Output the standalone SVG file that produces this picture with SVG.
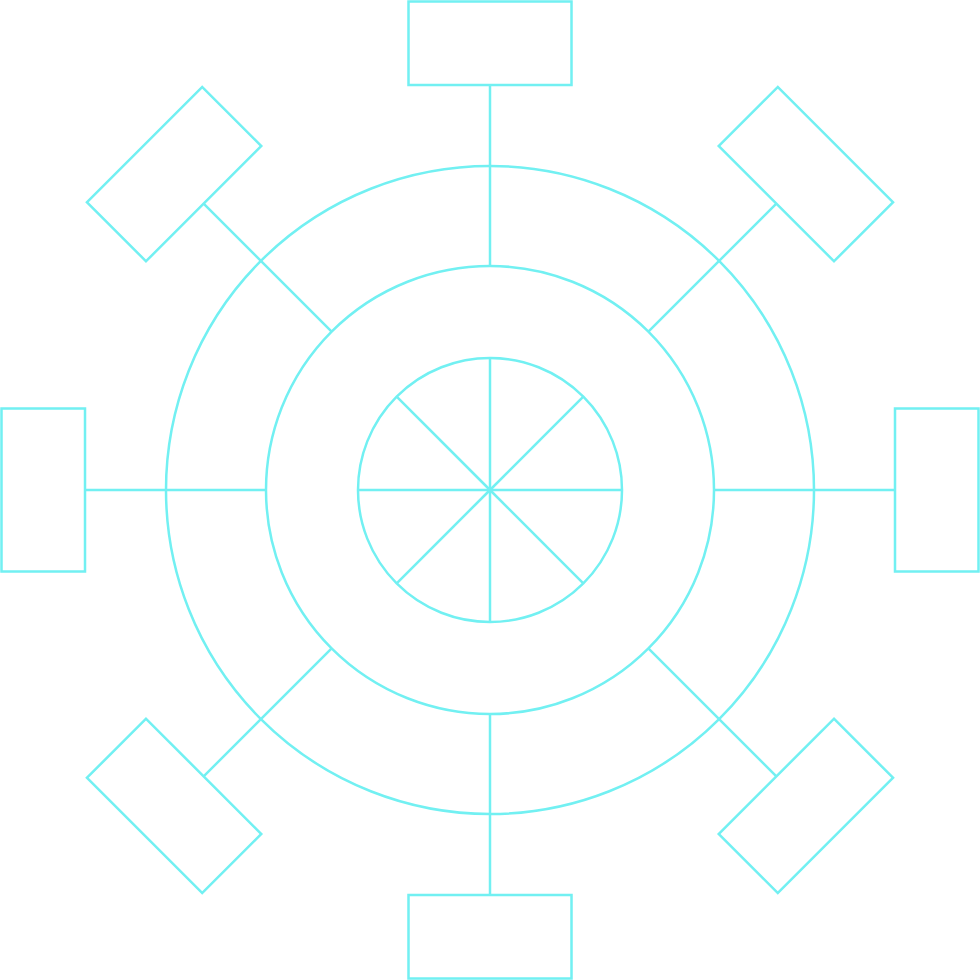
<svg xmlns="http://www.w3.org/2000/svg" width="980" height="980" viewBox="0 0 980 980">
<style>
.s{fill:none;stroke:#72F0F2;stroke-width:2.5}
</style>
<rect width="980" height="980" fill="#ffffff"/>
<g id="rings" class="s">
<circle cx="490" cy="490" r="324"/>
<circle cx="490" cy="490" r="224"/>
<circle cx="490" cy="490" r="132"/>
</g>
<g id="connectors" class="s">
<g id="hub-spokes">
<line x1="490" y1="490" x2="490" y2="358"/>
<line x1="490" y1="490" x2="490" y2="622"/>
<line x1="490" y1="490" x2="358" y2="490"/>
<line x1="490" y1="490" x2="622" y2="490"/>
<line x1="490" y1="490" x2="396.7" y2="396.7"/>
<line x1="490" y1="490" x2="583.3" y2="396.7"/>
<line x1="490" y1="490" x2="396.7" y2="583.3"/>
<line x1="490" y1="490" x2="583.3" y2="583.3"/>
</g>
<line x1="490" y1="266" x2="490" y2="85"/>
<line x1="490" y1="266" x2="490" y2="85" transform="rotate(45 490 490)"/>
<line x1="490" y1="266" x2="490" y2="85" transform="rotate(90 490 490)"/>
<line x1="490" y1="266" x2="490" y2="85" transform="rotate(135 490 490)"/>
<line x1="490" y1="266" x2="490" y2="85" transform="rotate(180 490 490)"/>
<line x1="490" y1="266" x2="490" y2="85" transform="rotate(225 490 490)"/>
<line x1="490" y1="266" x2="490" y2="85" transform="rotate(270 490 490)"/>
<line x1="490" y1="266" x2="490" y2="85" transform="rotate(315 490 490)"/>
</g>
<g id="node-top" class="s"><rect x="408.5" y="1.5" width="163" height="83.5"/></g>
<g id="node-top-right" class="s" transform="rotate(45 490 490)"><rect x="408.5" y="1.5" width="163" height="83.5"/></g>
<g id="node-right" class="s" transform="rotate(90 490 490)"><rect x="408.5" y="1.5" width="163" height="83.5"/></g>
<g id="node-bottom-right" class="s" transform="rotate(135 490 490)"><rect x="408.5" y="1.5" width="163" height="83.5"/></g>
<g id="node-bottom" class="s" transform="rotate(180 490 490)"><rect x="408.5" y="1.5" width="163" height="83.5"/></g>
<g id="node-bottom-left" class="s" transform="rotate(225 490 490)"><rect x="408.5" y="1.5" width="163" height="83.5"/></g>
<g id="node-left" class="s" transform="rotate(270 490 490)"><rect x="408.5" y="1.5" width="163" height="83.5"/></g>
<g id="node-top-left" class="s" transform="rotate(315 490 490)"><rect x="408.5" y="1.5" width="163" height="83.5"/></g>
</svg>
